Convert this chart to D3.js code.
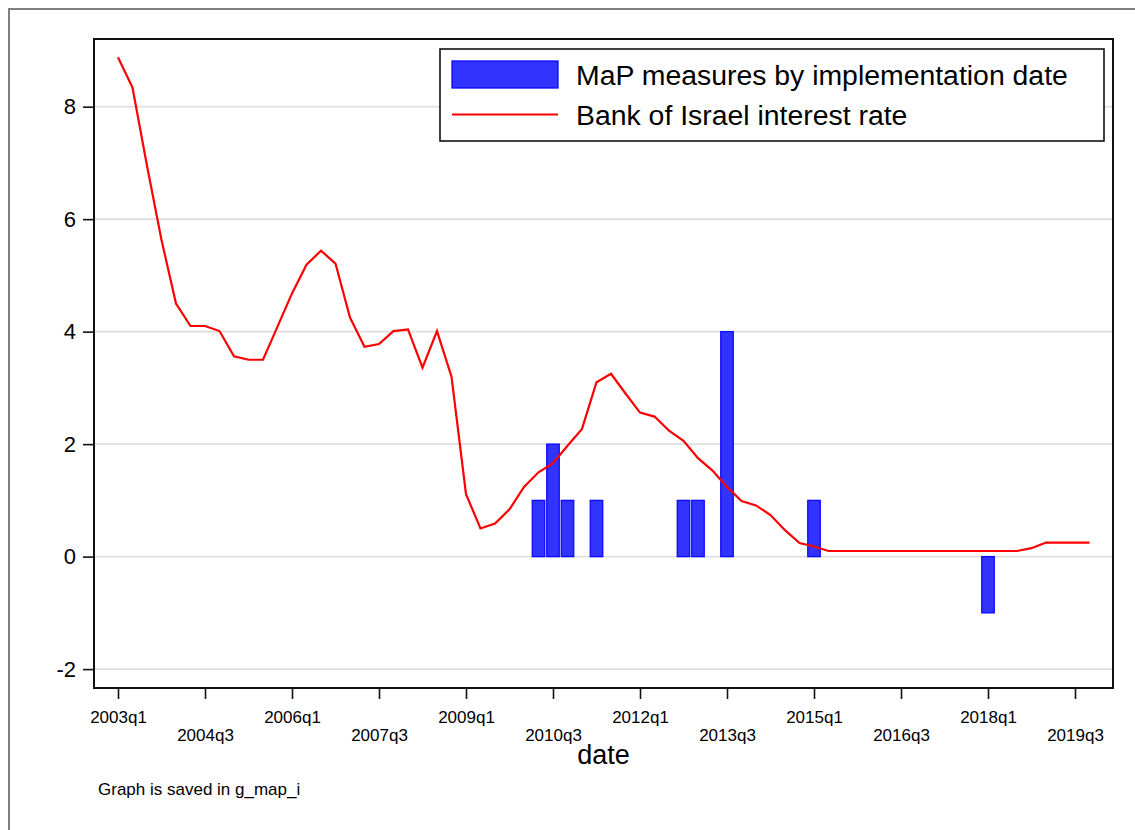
<!DOCTYPE html>
<html>
<head>
<meta charset="utf-8">
<script src="https://cdn.jsdelivr.net/npm/d3@7"></script>
<style>
  html, body { margin: 0; padding: 0; background: #fff; }
  svg { display: block; font-family: "Liberation Sans", Arial, Helvetica, sans-serif; }
</style>
</head>
<body>
<svg id="chart" width="1135" height="830"></svg>
<script>
// Quarters covered by the interest-rate series (2003q1 .. 2019q4)
const quarters = [
  "2003q1","2003q2","2003q3","2003q4","2004q1","2004q2","2004q3","2004q4",
  "2005q1","2005q2","2005q3","2005q4","2006q1","2006q2","2006q3","2006q4",
  "2007q1","2007q2","2007q3","2007q4","2008q1","2008q2","2008q3","2008q4",
  "2009q1","2009q2","2009q3","2009q4","2010q1","2010q2","2010q3","2010q4",
  "2011q1","2011q2","2011q3","2011q4","2012q1","2012q2","2012q3","2012q4",
  "2013q1","2013q2","2013q3","2013q4","2014q1","2014q2","2014q3","2014q4",
  "2015q1","2015q2","2015q3","2015q4","2016q1","2016q2","2016q3","2016q4",
  "2017q1","2017q2","2017q3","2017q4","2018q1","2018q2","2018q3","2018q4",
  "2019q1","2019q2","2019q3","2019q4"
];

// Bank of Israel interest rate, quarterly (%)
const interestRate = [
  8.88, 8.34, 6.95, 5.63, 4.50, 4.10, 4.10, 4.01,
  3.56, 3.50, 3.50, 4.09, 4.68, 5.19, 5.44, 5.21,
  4.25, 3.73, 3.78, 4.01, 4.04, 3.36, 4.01, 3.20,
  1.11, 0.50, 0.59, 0.84, 1.24, 1.50, 1.66, 1.97,
  2.27, 3.10, 3.25, 2.90, 2.56, 2.49, 2.24, 2.06,
  1.75, 1.53, 1.24, 0.99, 0.91, 0.74, 0.47, 0.24,
  0.18, 0.10, 0.10, 0.10, 0.10, 0.10, 0.10, 0.10,
  0.10, 0.10, 0.10, 0.10, 0.10, 0.10, 0.10, 0.15,
  0.25, 0.25, 0.25, 0.25
];

// Macroprudential measures, net count by implementation quarter
const mapQuarters = ["2010q2","2010q3","2010q4","2011q2","2012q4","2013q1","2013q3","2015q1","2018q1"];
const mapMeasures = [1, 2, 1, 1, 1, 1, 4, 1, -1];

// Axis ticks
const xTickLabels = ["2003q1","2004q3","2006q1","2007q3","2009q1","2010q3","2012q1","2013q3","2015q1","2016q3","2018q1","2019q3"];
const yTickValues = [-2, 0, 2, 4, 6, 8];

const legendLabels = ["MaP measures by implementation date", "Bank of Israel interest rate"];

// ---------------------------------------------------------------
const svg = d3.select("#chart");
const plot = { left: 94, right: 1113, top: 39, bottom: 688 };

const qIndex = q => quarters.indexOf(q);

const x = d3.scaleLinear().domain([-1.655, 68.62]).range([plot.left, plot.right]);
const y = d3.scaleLinear().domain([-2.336, 9.203]).range([plot.bottom, plot.top]);

// outer graph frame
svg.append("path")
  .attr("d", "M9,840 V9 H1145")
  .attr("fill", "none").attr("stroke", "#7f7f7f").attr("stroke-width", 2);

// horizontal grid lines
svg.append("g").selectAll("line").data(yTickValues).join("line")
  .attr("x1", plot.left).attr("x2", plot.right)
  .attr("y1", d => y(d)).attr("y2", d => y(d))
  .attr("stroke", "#dedede").attr("stroke-width", 1.6);

// bars
const bw = x(0.86) - x(0);
svg.append("g").selectAll("rect").data(mapQuarters.map((q, i) => ({ q, v: mapMeasures[i] }))).join("rect")
  .attr("x", d => x(qIndex(d.q)) - bw / 2)
  .attr("width", bw)
  .attr("y", d => y(Math.max(0, d.v)))
  .attr("height", d => Math.abs(y(d.v) - y(0)))
  .attr("fill", "#3333ff")
  .attr("stroke", "#0a0aff")
  .attr("stroke-width", 1.3);

// interest-rate line
const line = d3.line().x((d, i) => x(i)).y(d => y(d));
svg.append("path").datum(interestRate)
  .attr("d", line)
  .attr("fill", "none").attr("stroke", "#ff0000").attr("stroke-width", 2.2)
  .attr("stroke-linejoin", "miter");

// plot region outline
svg.append("rect")
  .attr("x", plot.left).attr("y", plot.top)
  .attr("width", plot.right - plot.left).attr("height", plot.bottom - plot.top)
  .attr("fill", "none").attr("stroke", "#111").attr("stroke-width", 2);

// y axis
const yAxis = d3.axisLeft(y).tickValues(yTickValues).tickSize(11).tickPadding(7).tickFormat(d3.format("d"));
const gy = svg.append("g").attr("transform", `translate(${plot.left},0)`).call(yAxis);
gy.select(".domain").remove();
gy.selectAll(".tick line").attr("stroke", "#111").attr("stroke-width", 1.6);
gy.selectAll(".tick text").attr("font-size", 22).attr("fill", "#000")
  .text(d => d < 0 ? "-" + Math.abs(d) : d);

// x axis with staggered labels
const xAxis = d3.axisBottom(x)
  .tickValues(xTickLabels.map(qIndex))
  .tickSize(11)
  .tickFormat(i => quarters[i]);
const gx = svg.append("g").attr("transform", `translate(0,${plot.bottom})`).call(xAxis);
gx.select(".domain").remove();
gx.selectAll(".tick line").attr("stroke", "#111").attr("stroke-width", 1.6);
gx.selectAll(".tick text")
  .attr("font-size", 17).attr("fill", "#000")
  .attr("dy", null)
  .attr("y", (d, i) => i % 2 === 0 ? 35 : 53);

// axis title
svg.append("text")
  .attr("x", (plot.left + plot.right) / 2).attr("y", 764)
  .attr("text-anchor", "middle").attr("font-size", 27).text("date");

// note
svg.append("text")
  .attr("x", 98).attr("y", 795)
  .attr("font-size", 17).text("Graph is saved in g_map_i");

// legend
const lg = svg.append("g");
lg.append("rect").attr("x", 440).attr("y", 49).attr("width", 664).attr("height", 92)
  .attr("fill", "#fff").attr("stroke", "#111").attr("stroke-width", 1.6);
lg.append("rect").attr("x", 452).attr("y", 61).attr("width", 106).attr("height", 27)
  .attr("fill", "#3333ff").attr("stroke", "#0a0aff").attr("stroke-width", 1.3);
lg.append("line").attr("x1", 452).attr("x2", 558).attr("y1", 114.5).attr("y2", 114.5)
  .attr("stroke", "#ff0000").attr("stroke-width", 2.2);
lg.selectAll("text").data(legendLabels).join("text")
  .attr("x", 576).attr("y", (d, i) => 85 + i * 40)
  .attr("font-size", 28.4).attr("fill", "#000").text(d => d);
</script>
</body>
</html>
